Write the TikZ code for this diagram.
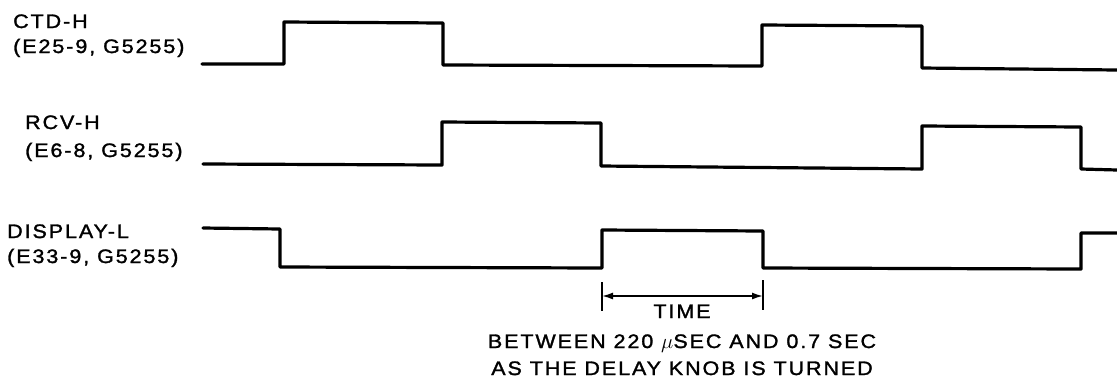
\documentclass[tikz,border=0pt]{standalone}
\usepackage{fontspec}
\newfontfamily\lblfont{Liberation Sans}[FakeStretch=1.1,LetterSpace=10,FakeBold=1.5]
\usetikzlibrary{arrows.meta}
\tikzset{
  wave/.style={line width=3.2pt, line join=round, line cap=round},
  lbl/.style={anchor=base west, inner sep=0pt, font=\lblfont\fontsize{19.5}{27}\selectfont},
  note/.style={anchor=base, inner sep=0pt, font=\lblfont\fontsize{19.5}{27}\selectfont},
  tick/.style={line width=2.2pt},
  dim/.style={line width=1.6pt, {Latex[length=11pt,width=7pt]}-{Latex[length=11pt,width=7pt]}}
}
\begin{document}
\begin{tikzpicture}[x=1pt,y=-1pt]
\useasboundingbox (0,0) rectangle (1117,384);
% labels
\node[lbl] (ctd) at (13,28) {CTD-H};
\node[lbl] (ctdp) at (13,53) {(E25-9, G5255)};
\node[lbl] (rcv) at (25,129) {RCV-H};
\node[lbl] (rcvp) at (25,157) {(E6-8, G5255)};
\node[lbl] (disp) at (7,238) {DISPLAY-L};
\node[lbl] (dispp) at (7,263) {(E33-9, G5255)};
% waveforms
\draw[wave] (202,64) -- (284,64) -- (284,22) -- (443,23) -- (443,65) -- (762,66)
  -- (762,25) -- (922,26) -- (922,68) -- (1117,70);
\draw[wave] (203,164) -- (442,165) -- (442,122) -- (601,123) -- (601,166) -- (922,169)
  -- (922,126) -- (1081,127) -- (1081,169) -- (1117,170);
\draw[wave] (203,228) -- (280,229) -- (280,267) -- (602,268) -- (602,230) -- (763,231)
  -- (763,268) -- (1081,269) -- (1081,233) -- (1117,233);
% time dimension
\coordinate (t1a) at (602,282);
\coordinate (t1b) at (602,311);
\coordinate (t2a) at (763,280);
\coordinate (t2b) at (763,310);
\coordinate (a1) at (602,296);
\coordinate (a2) at (763,296);
\draw[tick] (t1a) -- (t1b);
\draw[tick] (t2a) -- (t2b);
\draw[dim] (a1) -- (a2);
\node[note] (time) at (682,318) {TIME};
\node[note] (btw) at (682,348) {BETWEEN 220 $\mu$SEC AND 0.7 SEC};
\node[note] (knob) at (682,375) {AS THE DELAY KNOB IS TURNED};
\end{tikzpicture}
\end{document}
